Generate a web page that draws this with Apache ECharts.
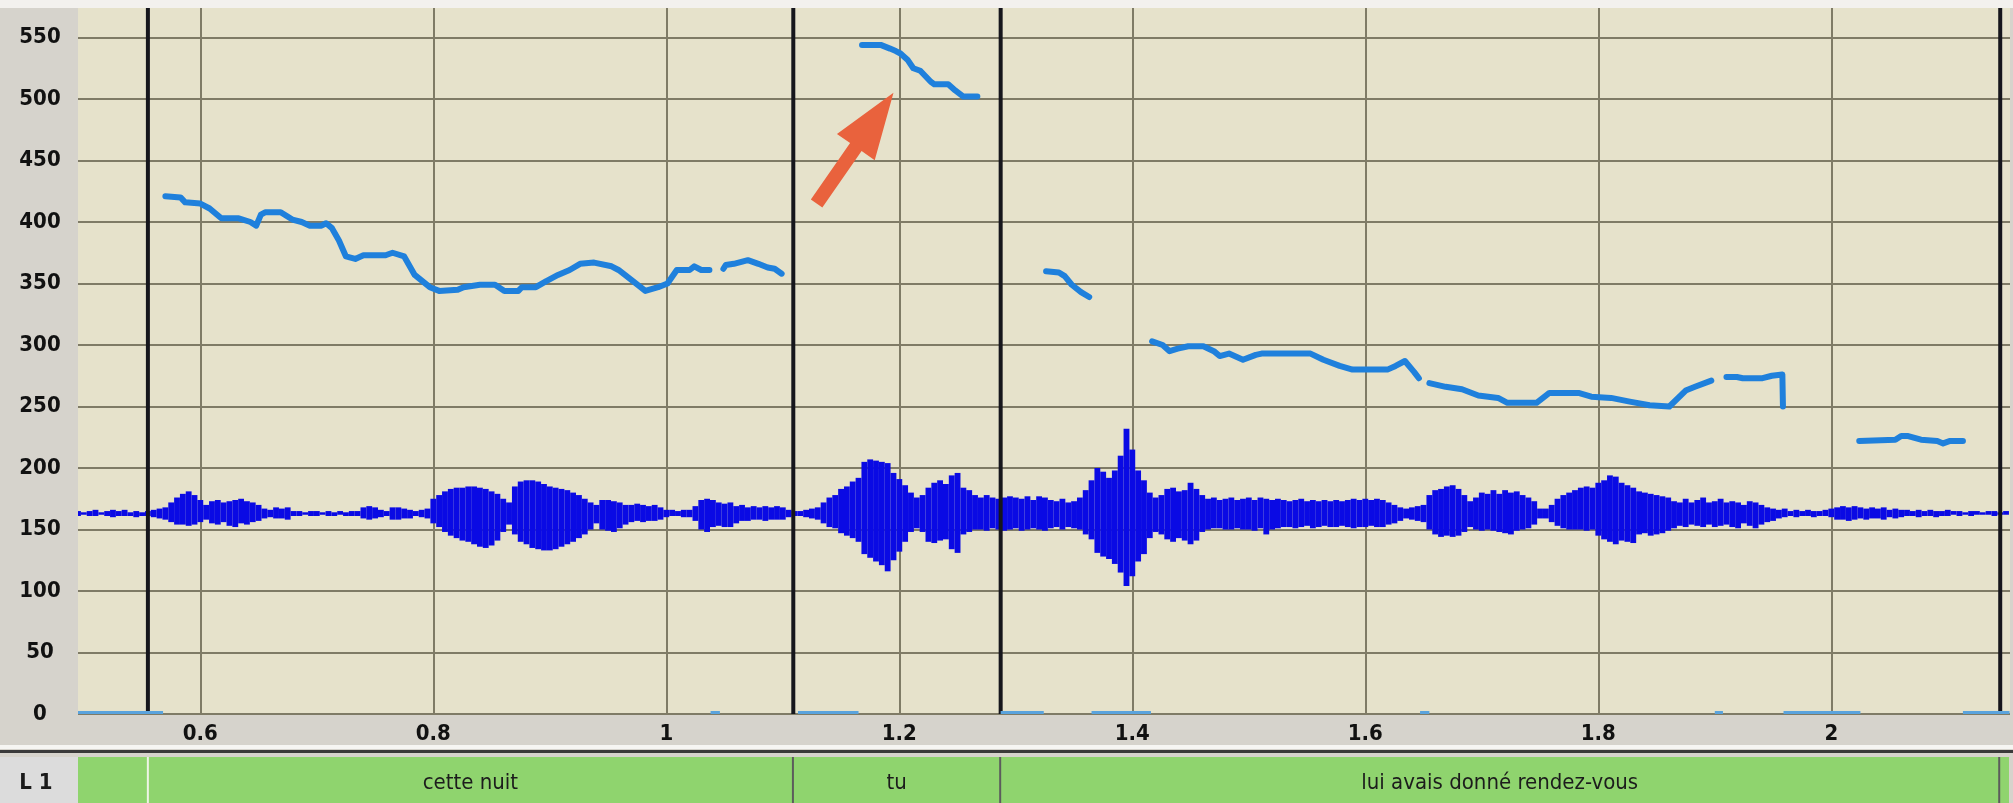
<!DOCTYPE html>
<html>
<head>
<meta charset="utf-8">
<script src="https://cdn.jsdelivr.net/npm/echarts@6.0.0/dist/echarts.min.js"></script>
<style>
  html, body { margin: 0; padding: 0; background: #d6d3cc; }
  #chart { width: 2013px; height: 803px; }
</style>
</head>
<body>
<div id="chart"></div>
<script>
// ---- axes ----
const timeRange = [0.495, 2.1534];               // seconds shown
const timeTicks = [0.6, 0.8, 1, 1.2, 1.4, 1.6, 1.8, 2];
const hzRange = [0, 574];
const hzTicks = [0, 50, 100, 150, 200, 250, 300, 350, 400, 450, 500, 550];

// ---- annotation tier (interval boundaries in s) ----
const tierName = 'L 1';
const tierBounds = [0.555, 1.109, 1.287, 2.145];
const tierLabels = ['cette nuit', 'tu', 'lui avais donné rendez-vous'];

// ---- F0 contours [time s, Hz] ----
const pitchCette = [[0.570,421],[0.583,420],[0.587,416],[0.600,415],[0.608,411],[0.618,403],[0.633,403],[0.643,400],[0.648,397],[0.652,406],[0.656,408],[0.669,408],[0.679,402],[0.687,400],[0.694,397],[0.704,397],[0.708,399],[0.713,395],[0.719,385],[0.725,372],[0.733,370],[0.740,373],[0.759,373],[0.765,375],[0.775,372],[0.784,357],[0.797,347],[0.805,344],[0.821,345],[0.826,347],[0.840,349],[0.853,349],[0.861,344],[0.873,344],[0.876,347],[0.888,347],[0.897,352],[0.907,357],[0.917,361],[0.926,366],[0.938,367],[0.953,364],[0.959,361],[0.970,353],[0.982,344],[0.993,347],[1.001,350],[1.009,361],[1.020,361],[1.024,364],[1.030,361],[1.037,361]];
const pitchNuit = [[1.049,362],[1.051,365],[1.058,366],[1.070,369],[1.079,366],[1.087,363],[1.093,362],[1.099,358]];
const pitchTu = [[1.168,544],[1.184,544],[1.192,541],[1.197,539],[1.201,537],[1.207,532],[1.212,525],[1.218,523],[1.227,514],[1.230,512],[1.242,512],[1.248,507],[1.255,502],[1.267,502]];
const pitchLui = [[1.326,360],[1.337,359],[1.342,356],[1.348,349],[1.356,343],[1.363,339]];
const pitchAvais = [[1.417,303],[1.426,300],[1.432,295],[1.439,297],[1.448,299],[1.461,299],[1.470,295],[1.475,291],[1.483,293],[1.495,288],[1.506,292],[1.511,293],[1.553,293],[1.564,288],[1.578,283],[1.589,280],[1.619,280],[1.626,283],[1.634,287],[1.642,278],[1.646,273]];
const pitchDonne = [[1.655,269],[1.669,266],[1.683,264],[1.697,259],[1.714,257],[1.722,253],[1.747,253],[1.758,261],[1.783,261],[1.794,258],[1.811,257],[1.827,254],[1.844,251],[1.861,250],[1.875,263],[1.883,266],[1.897,271]];
const pitchRendez = [[1.910,274],[1.919,274],[1.924,273],[1.941,273],[1.949,275],[1.958,276],[1.9585,250]];
const pitchVous = [[2.024,222],[2.055,223],[2.060,226],[2.066,226],[2.077,223],[2.091,222],[2.096,220],[2.102,222],[2.113,222]];
const pitchContours = [pitchCette, pitchNuit, pitchTu, pitchLui, pitchAvais, pitchDonne, pitchRendez, pitchVous];

// unvoiced stretches (F0 = 0), [start s, end s]
const unvoicedSpans = [[0.495,0.568],[1.038,1.046],[1.113,1.165],[1.287,1.324],[1.365,1.416],[1.647,1.655],[1.900,1.907],[1.959,2.025],[2.113,2.153]];

// ---- waveform envelope, plotted on the Hz scale: [time s, upper, lower] ----
const waveEnvelope = [
[0.495,165,161],[0.500,164,162],[0.505,165,161],[0.510,166,161],[0.515,164,162],[0.520,165,161],[0.525,166,160],[0.530,165,161],[0.535,166,161],[0.540,164,161],
[0.545,165,160],[0.550,164,161],[0.555,165,161],[0.560,166,160],[0.565,167,159],[0.570,168,158],[0.575,172,156],[0.580,176,154],[0.585,179,154],[0.590,181,153],
[0.595,178,154],[0.600,174,156],[0.605,170,158],[0.610,173,155],[0.615,174,154],[0.620,172,156],[0.625,173,153],[0.630,174,152],[0.635,175,155],[0.640,173,154],
[0.645,172,156],[0.650,170,157],[0.655,167,159],[0.660,166,160],[0.665,168,159],[0.670,167,159],[0.675,168,158],[0.680,165,161],[0.685,165,161],[0.690,164,162],
[0.695,165,161],[0.700,165,161],[0.705,164,162],[0.710,165,161],[0.715,164,161],[0.720,165,162],[0.725,164,161],[0.730,165,161],[0.735,165,161],[0.740,168,159],
[0.745,169,158],[0.750,168,159],[0.755,166,160],[0.760,165,161],[0.765,168,158],[0.770,168,158],[0.775,167,159],[0.780,166,159],[0.785,165,161],[0.790,166,160],
[0.795,167,159],[0.800,175,155],[0.805,178,152],[0.810,181,148],[0.815,183,145],[0.820,184,143],[0.825,184,141],[0.830,185,140],[0.835,185,138],[0.840,184,136],
[0.845,183,135],[0.850,181,137],[0.855,179,141],[0.860,175,148],[0.865,172,154],[0.870,185,146],[0.875,189,140],[0.880,190,138],[0.885,190,135],[0.890,189,134],
[0.895,187,133],[0.900,185,133],[0.905,184,134],[0.910,183,136],[0.915,182,138],[0.920,180,140],[0.925,178,143],[0.930,175,146],[0.935,172,150],[0.940,170,155],
[0.945,174,150],[0.950,174,149],[0.955,173,148],[0.960,172,151],[0.965,170,154],[0.970,170,156],[0.975,171,157],[0.980,170,156],[0.985,169,157],[0.990,170,157],
[0.995,168,158],[1.000,166,160],[1.005,166,161],[1.010,165,161],[1.015,166,160],[1.020,166,160],[1.025,169,157],[1.030,174,150],[1.035,175,148],[1.040,174,152],
[1.045,172,153],[1.050,171,152],[1.055,172,152],[1.060,169,155],[1.065,170,157],[1.070,168,157],[1.075,169,158],[1.080,168,158],[1.085,169,157],[1.090,168,158],
[1.095,169,158],[1.100,168,158],[1.105,166,160],[1.110,165,161],[1.115,165,161],[1.120,166,160],[1.125,167,159],[1.130,168,158],[1.135,172,155],[1.140,176,152],
[1.145,178,151],[1.150,183,147],[1.155,185,145],[1.160,189,143],[1.165,192,140],[1.170,205,130],[1.175,207,127],[1.180,206,124],[1.185,205,121],[1.190,204,116],
[1.195,196,125],[1.200,191,132],[1.205,186,140],[1.210,180,148],[1.215,176,151],[1.220,178,148],[1.225,184,140],[1.230,188,139],[1.235,190,141],[1.240,187,142],
[1.245,194,134],[1.250,196,131],[1.255,184,146],[1.260,182,148],[1.265,178,150],[1.270,176,150],[1.275,178,149],[1.280,176,151],[1.285,175,150],[1.290,176,149],
[1.295,177,150],[1.300,176,151],[1.305,175,149],[1.310,177,150],[1.315,174,151],[1.320,177,150],[1.325,176,149],[1.330,174,151],[1.335,173,152],[1.340,175,150],
[1.345,172,152],[1.350,173,151],[1.355,176,150],[1.360,182,146],[1.365,190,142],[1.370,200,131],[1.375,197,128],[1.380,192,126],[1.385,198,122],[1.390,210,115],
[1.395,232,104],[1.400,215,112],[1.405,198,124],[1.410,190,130],[1.415,180,143],[1.420,176,148],[1.425,178,146],[1.430,183,142],[1.435,184,140],[1.440,181,143],
[1.445,182,141],[1.450,188,138],[1.455,183,141],[1.460,178,148],[1.465,175,150],[1.470,176,151],[1.475,174,151],[1.480,175,150],[1.485,176,150],[1.490,174,151],
[1.495,175,150],[1.500,176,150],[1.505,174,149],[1.510,176,151],[1.515,175,146],[1.520,174,150],[1.525,175,151],[1.530,174,152],[1.535,173,152],[1.540,174,151],
[1.545,175,152],[1.550,173,153],[1.555,174,151],[1.560,173,152],[1.565,174,153],[1.570,173,152],[1.575,174,152],[1.580,173,153],[1.585,174,152],[1.590,175,151],
[1.595,174,152],[1.600,175,152],[1.605,174,153],[1.610,175,152],[1.615,174,152],[1.620,172,154],[1.625,170,155],[1.630,168,157],[1.635,167,159],[1.640,168,158],
[1.645,169,157],[1.650,170,156],[1.655,178,150],[1.660,182,146],[1.665,183,144],[1.670,185,145],[1.675,186,144],[1.680,183,145],[1.685,178,148],[1.690,173,152],
[1.695,176,150],[1.700,180,149],[1.705,179,150],[1.710,182,149],[1.715,179,148],[1.720,182,147],[1.725,180,146],[1.730,181,149],[1.735,178,150],[1.740,176,151],
[1.745,173,154],[1.750,167,159],[1.755,167,159],[1.760,170,156],[1.765,175,153],[1.770,178,151],[1.775,180,150],[1.780,182,150],[1.785,184,150],[1.790,185,149],
[1.795,184,150],[1.800,188,145],[1.805,190,142],[1.810,194,140],[1.815,193,138],[1.820,188,141],[1.825,186,140],[1.830,184,139],[1.835,181,146],[1.840,180,147],
[1.845,179,145],[1.850,178,146],[1.855,177,147],[1.860,176,149],[1.865,173,151],[1.870,172,153],[1.875,175,152],[1.880,172,154],[1.885,174,153],[1.890,176,152],
[1.895,172,154],[1.900,173,152],[1.905,175,153],[1.910,172,154],[1.915,173,152],[1.920,172,151],[1.925,170,155],[1.930,173,153],[1.935,172,151],[1.940,170,154],
[1.945,168,156],[1.950,167,157],[1.955,166,159],[1.960,167,160],[1.965,165,161],[1.970,166,160],[1.975,165,161],[1.980,166,161],[1.985,165,160],[1.990,165,161],
[1.995,166,161],[2.000,167,160],[2.005,168,158],[2.010,169,158],[2.015,168,157],[2.020,169,158],[2.025,168,159],[2.030,167,158],[2.035,168,159],[2.040,167,159],
[2.045,168,158],[2.050,166,160],[2.055,167,159],[2.060,166,160],[2.065,166,161],[2.070,165,161],[2.075,166,160],[2.080,165,161],[2.085,166,161],[2.090,165,160],
[2.095,165,161],[2.100,166,161],[2.105,165,162],[2.110,165,161],[2.115,164,162],[2.120,165,161],[2.125,165,162],[2.130,164,162],[2.135,165,162],[2.140,165,161],
[2.145,164,162],[2.150,165,162]
];

// arrow pointing at the high F0 on "tu": [time s, Hz] tail and tip
const arrowFrom = [1.129, 415];
const arrowTo = [1.195, 505];

// ---- drawing ----
const FONT = "'Liberation Sans Narrow', 'DejaVu Sans Condensed', 'Liberation Sans', sans-serif";
const GRID_COLOR = '#7f7b66';
const chart = echarts.init(document.getElementById('chart'), null, { renderer: 'canvas' });

const waveStepSec = waveEnvelope[1][0] - waveEnvelope[0][0];

const series = [];

// waveform columns
series.push({
  type: 'custom', xAxisIndex: 0, yAxisIndex: 0, z: 2, silent: true, clip: true,
  data: waveEnvelope,
  encode: { x: 0, y: [1, 2] },
  renderItem: function (params, api) {
    const t = api.value(0);
    const hi = api.coord([t, api.value(1)]);
    const lo = api.coord([t, api.value(2)]);
    const w = api.size([waveStepSec, 0])[0];
    return {
      type: 'rect',
      shape: { x: hi[0] - w / 2, y: hi[1], width: w, height: Math.max(1.5, lo[1] - hi[1]) },
      style: { fill: '#0a0ae4' }
    };
  }
});

// interval boundaries across the plot
series.push({
  type: 'custom', xAxisIndex: 0, yAxisIndex: 0, z: 3, silent: true,
  data: tierBounds.map(t => [t, 0]),
  renderItem: function (params, api) {
    const t = api.value(0);
    const a = api.coord([t, hzRange[0]]);
    const b = api.coord([t, hzRange[1]]);
    return { type: 'line', shape: { x1: a[0], y1: a[1], x2: b[0], y2: b[1] },
             style: { stroke: '#16161c', lineWidth: 4 } };
  }
});

// unvoiced stretches on the zero line
series.push({
  type: 'custom', xAxisIndex: 0, yAxisIndex: 0, z: 4, silent: true,
  data: unvoicedSpans.map(s => [s[0], 0, s[1]]),
  renderItem: function (params, api) {
    const a = api.coord([api.value(0), 0]);
    const b = api.coord([api.value(2), 0]);
    return { type: 'line', shape: { x1: a[0], y1: a[1] - 1.5, x2: b[0], y2: b[1] - 1.5 },
             style: { stroke: '#5aa3dd', lineWidth: 3 } };
  }
});

// F0 contours
pitchContours.forEach(function (contour) {
  series.push({
    type: 'line', xAxisIndex: 0, yAxisIndex: 0, z: 5, silent: true,
    data: contour, symbol: 'none', smooth: false,
    lineStyle: { color: '#1f80dc', width: 6, cap: 'round', join: 'round' }
  });
});

// arrow
series.push({
  type: 'custom', xAxisIndex: 0, yAxisIndex: 0, z: 6, silent: true,
  data: [[arrowFrom[0], arrowFrom[1], arrowTo[0], arrowTo[1]]],
  renderItem: function (params, api) {
    const p0 = api.coord([api.value(0), api.value(1)]);
    const p1 = api.coord([api.value(2), api.value(3)]);
    const dx = p1[0] - p0[0], dy = p1[1] - p0[1];
    const len = Math.hypot(dx, dy);
    const ux = dx / len, uy = dy / len, nx = -uy, ny = ux;
    const headLen = 66, headHalf = 23, shaftHalf = 7;
    const bx = p1[0] - ux * headLen, by = p1[1] - uy * headLen;
    const pts = [
      [p0[0] + nx * shaftHalf, p0[1] + ny * shaftHalf],
      [bx + nx * shaftHalf, by + ny * shaftHalf],
      [bx + nx * headHalf, by + ny * headHalf],
      [p1[0], p1[1]],
      [bx - nx * headHalf, by - ny * headHalf],
      [bx - nx * shaftHalf, by - ny * shaftHalf],
      [p0[0] - nx * shaftHalf, p0[1] - ny * shaftHalf]
    ];
    return { type: 'polygon', shape: { points: pts }, style: { fill: '#e9623d' } };
  }
});

// tier labels
series.push({
  type: 'custom', xAxisIndex: 1, yAxisIndex: 1, z: 3, silent: true,
  data: tierLabels.map((s, i) => [(tierBounds[i] + tierBounds[i + 1]) / 2, 0.5]),
  renderItem: function (params, api) {
    const c = api.coord([api.value(0), api.value(1)]);
    return { type: 'text', style: {
      text: tierLabels[params.dataIndex], x: c[0], y: c[1] + 3,
      align: 'center', verticalAlign: 'middle',
      fontSize: 22, fontFamily: FONT, fill: '#1c1c1c' } };
  }
});

// tier separators
series.push({
  type: 'custom', xAxisIndex: 1, yAxisIndex: 1, z: 3, silent: true,
  data: tierBounds.map(t => [t, 0]),
  renderItem: function (params, api) {
    const a = api.coord([api.value(0), 0]);
    const b = api.coord([api.value(0), 1]);
    return { type: 'line', shape: { x1: a[0], y1: a[1], x2: b[0], y2: b[1] },
             style: { stroke: params.dataIndex === 0 ? '#eef4e6' : '#5c5c5c', lineWidth: 2 } };
  }
});

const option = {
  animation: false,
  backgroundColor: '#d6d3cc',
  grid: [
    { left: 78, right: 3, top: 8, height: 706, show: true, backgroundColor: '#e6e2cb', borderWidth: 0 },
    { left: 78, right: 4, top: 757, height: 46, show: true, backgroundColor: '#8fd46e', borderWidth: 0 }
  ],
  xAxis: [
    { gridIndex: 0, type: 'value', min: timeRange[0], max: timeRange[1],
      axisLine: { show: false },
      axisTick: { show: false, customValues: timeTicks },
      axisLabel: { customValues: timeTicks, color: '#111', fontFamily: FONT, fontWeight: 'bold',
                   fontSize: 22, margin: 20, verticalAlign: 'middle' },
      splitLine: { show: true, lineStyle: { color: GRID_COLOR, width: 2 } } },
    { gridIndex: 1, type: 'value', min: timeRange[0], max: timeRange[1], show: false }
  ],
  yAxis: [
    { gridIndex: 0, type: 'value', min: hzRange[0], max: hzRange[1],
      axisLine: { show: false },
      axisTick: { show: false, customValues: hzTicks },
      axisLabel: { customValues: hzTicks, color: '#111', fontFamily: FONT, fontWeight: 'bold',
                   fontSize: 22, margin: 38, align: 'center', verticalAlign: 'middle',
                   padding: [0, 0, 8, 0] },
      splitLine: { show: true, lineStyle: { color: GRID_COLOR, width: 2 } } },
    { gridIndex: 1, type: 'value', min: 0, max: 1, show: false }
  ],
  graphic: [
    { type: 'rect', left: 0, top: 0, shape: { width: 2013, height: 8 }, style: { fill: '#f3f1ee' }, silent: true },
    { type: 'rect', left: 0, top: 745, shape: { width: 2013, height: 4 }, style: { fill: '#f6f5f2' }, silent: true },
    { type: 'rect', left: 0, top: 750, shape: { width: 2013, height: 3 }, style: { fill: '#3a3a3a' }, silent: true },
    { type: 'rect', left: 0, top: 757, shape: { width: 78, height: 46 }, style: { fill: '#dcdcdc' }, silent: true },
    { type: 'text', x: 36, y: 783, silent: true,
      style: { text: tierName, align: 'center', verticalAlign: 'middle', fontSize: 22,
               fontWeight: 'bold', fontFamily: FONT, fill: '#1a1a1a' } }
  ],
  series: series
};

chart.setOption(option);
</script>
</body>
</html>
